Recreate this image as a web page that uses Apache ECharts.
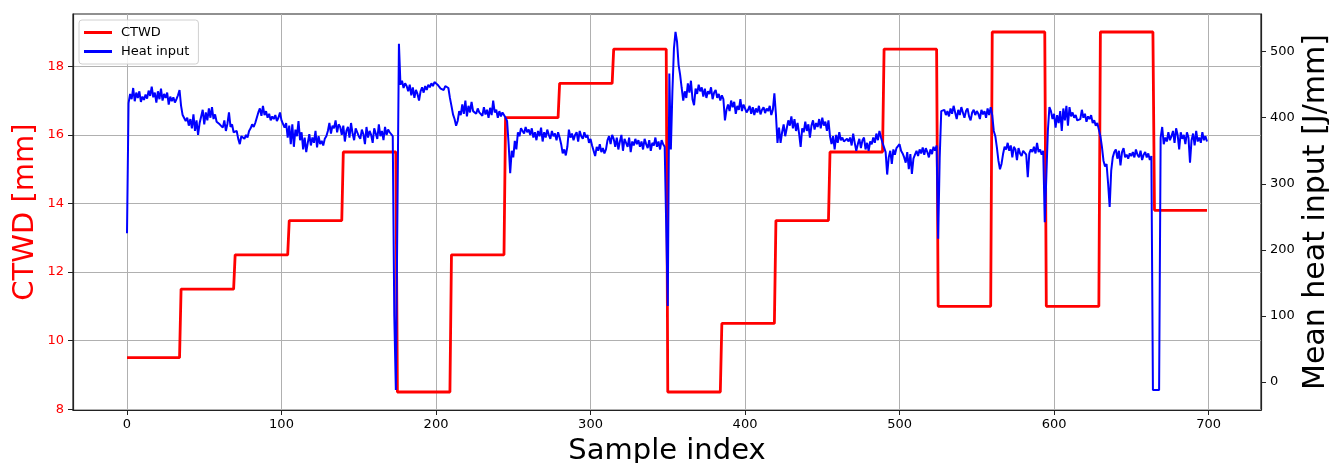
<!DOCTYPE html>
<html>
<head>
<meta charset="utf-8">
<script src="https://cdn.jsdelivr.net/npm/echarts@6/dist/echarts.min.js"></script>
<style>
html,body{margin:0;padding:0;background:#fff;}
#chart{width:1329px;height:463px;}
</style>
</head>
<body>
<div id="chart"></div>
<script>
// CTWD step levels and the sample index where each level starts
const ctwdStarts = [0, 35, 70, 105, 140, 175, 210, 245, 280, 315, 350, 385, 420, 455, 490, 525, 560, 595, 630, 665];
const ctwdLevels = [9.5, 11.5, 12.5, 13.5, 15.5, 8.5, 12.5, 16.5, 17.5, 18.5, 8.5, 10.5, 13.5, 15.5, 18.5, 11, 19, 11, 19, 13.8];
const lastSample = 699;

// Mean heat input [J/mm], one value per sample index 0..699
const heatInput = [
225, 422, 436, 428, 445, 425, 438, 430, 440, 424,
432, 427, 435, 429, 441, 433, 447, 431, 438, 423,
440, 428, 444, 426, 436, 430, 438, 420, 432, 425,
431, 423, 428, 434, 442, 418, 404, 402, 395, 400,
388, 398, 384, 405, 380, 396, 374, 392, 402, 412,
390, 408, 396, 414, 400, 416, 398, 405, 394, 392,
390, 393, 385, 396, 380, 391, 408, 386, 390, 378,
376, 380, 368, 360, 372, 375, 368, 374, 370, 380,
384, 390, 386, 392, 395, 408, 414, 403, 418, 404,
410, 400, 406, 396, 402, 398, 404, 395, 400, 408,
396, 398, 385, 392, 370, 388, 360, 390, 356, 382,
372, 395, 366, 378, 352, 370, 348, 362, 375, 358,
370, 362, 380, 355, 372, 360, 365, 358, 368, 372,
380, 392, 376, 388, 384, 396, 378, 390, 386, 374,
388, 364, 380, 386, 370, 392, 376, 366, 384, 378,
372, 368, 382, 375, 360, 386, 370, 380, 374, 362,
384, 376, 368, 390, 372, 380, 366, 386, 374, 382,
378, 380, 372, 100, -12, -12, 512, 450, 456, 445,
452, 448, 440, 450, 434, 446, 430, 442, 436, 426,
440, 446, 438, 448, 442, 450, 446, 452, 448, 454,
455, 450, 448, 444, 446, 442, 448, 450, 445, 430,
418, 405, 398, 388, 395, 410, 404, 420, 406, 426,
402, 418, 408, 424, 410, 412, 406, 414, 408, 410,
403, 416, 405, 412, 400, 415, 404, 426, 408, 412,
400, 410, 402, 408, 404, 400, 395, 360, 316, 350,
340, 365, 352, 378, 372, 384, 380, 376, 386, 378,
382, 374, 384, 370, 378, 366, 380, 372, 385, 364,
378, 370, 382, 374, 368, 380, 372, 376, 366, 378,
370, 360, 346, 352, 343, 356, 382, 370, 376, 366,
374, 378, 364, 380, 372, 368, 378, 370, 374, 362,
368, 358, 356, 342, 356, 350, 360, 348, 354, 346,
352, 366, 372, 360, 374, 368, 356, 370, 352, 364,
374, 350, 368, 362, 356, 370, 348, 364, 358, 368,
360, 366, 356, 364, 352, 368, 360, 354, 366, 350,
362, 358, 370, 356, 364, 352, 366, 360, 356, 358,
115, 467, 352, 440, 505, 530, 515, 480, 465, 445,
426, 440, 430, 452, 438, 456, 428, 419, 444, 436,
450, 440, 446, 432, 444, 430, 440, 436, 446, 428,
438, 442, 430, 436, 426, 434, 428, 396, 412, 420,
410, 426, 416, 424, 406, 418, 412, 428, 410, 420,
414, 408, 412, 418, 406, 416, 404, 414, 408, 418,
405, 412, 416, 407, 414, 410, 418, 404, 412, 437,
405, 362, 385, 362, 378, 390, 372, 384, 396, 388,
402, 384, 398, 380, 392, 376, 356, 384, 378, 394,
380, 390, 370, 388, 396, 382, 392, 386, 398, 384,
400, 388, 394, 380, 396, 372, 360, 372, 352, 374,
362, 378, 366, 370, 364, 362, 368, 364, 370, 358,
376, 362, 350, 360, 368, 354, 366, 370, 352, 362,
350, 364, 360, 370, 362, 376, 366, 380, 370, 362,
365, 348, 314, 340, 350, 330, 352, 344, 354, 356,
360, 350, 346, 340, 332, 348, 322, 345, 315, 338,
344, 350, 342, 352, 346, 355, 344, 354, 348, 340,
352, 345, 356, 350, 358, 217, 340, 410, 408, 412,
404, 410, 402, 414, 406, 418, 408, 398, 412, 404,
416, 408, 400, 410, 414, 402, 396, 408, 412, 404,
410, 406, 398, 412, 405, 410, 400, 414, 404, 416,
404, 380, 372, 355, 335, 322, 330, 345, 356, 352,
362, 350, 358, 340, 356, 352, 336, 354, 346, 342,
350, 348, 344, 310, 346, 352, 348, 356, 346, 362,
348, 352, 344, 350, 242, 310, 380, 416, 410, 398,
406, 385, 404, 392, 410, 380, 414, 396, 418, 388,
416, 402, 408, 400, 404, 396, 394, 398, 412, 400,
406, 394, 402, 398, 404, 392, 396, 388, 392, 382,
372, 356, 335, 326, 330, 300, 265, 320, 340, 348,
352, 338, 350, 328, 348, 354, 340, 344, 338, 346,
342, 348, 340, 352, 344, 340, 350, 336, 344, 348,
340, 346, 336, 342, -12, -12, -12, -12, -12, 370,
386, 360, 370, 364, 378, 366, 372, 380, 362, 384,
374, 352, 378, 368, 374, 360, 378, 370, 332, 366,
376, 358, 380, 364, 370, 362, 378, 366, 372, 364
];

const xTicks = [0, 100, 200, 300, 400, 500, 600, 700];
const ctwdTicks = [8, 10, 12, 14, 16, 18];
const heatTicks = [0, 100, 200, 300, 400, 500];

// build series data
const ctwdData = [];
for (let i = 0; i < ctwdStarts.length; i++) {
  const s = ctwdStarts[i];
  const e = (i + 1 < ctwdStarts.length) ? ctwdStarts[i + 1] - 1 : lastSample;
  ctwdData.push([s, ctwdLevels[i]]);
  ctwdData.push([e, ctwdLevels[i]]);
}
const heatData = heatInput.map((v, i) => [i, v]);

const FONT = 'DejaVu Sans';
const chart = echarts.init(document.getElementById('chart'), null, {renderer: 'canvas'});
chart.setOption({
  animation: false,
  backgroundColor: '#ffffff',
  textStyle: {fontFamily: FONT},
  grid: {
    left: 73, right: 68, top: 14, bottom: 53,
    containLabel: false,
    outerBoundsMode: 'none',
    show: true, borderColor: '#222', borderWidth: 1.2, backgroundColor: '#fff'
  },
  legend: {
    left: 79, top: 20,
    orient: 'vertical',
    padding: [5, 9, 5, 5],
    itemGap: 4,
    itemWidth: 28, itemHeight: 3,
    icon: 'rect',
    backgroundColor: 'rgba(255,255,255,0.85)',
    borderColor: '#d0d0d0', borderWidth: 1, borderRadius: 3,
    textStyle: {fontFamily: FONT, fontSize: 13, color: '#000', lineHeight: 15, padding: [0, 0, 0, 4]},
    data: ['CTWD', 'Heat input']
  },
  xAxis: {
    type: 'value',
    min: -34.95, max: 733.95,
    splitNumber: 8,
    name: 'Sample index',
    nameLocation: 'middle',
    nameGap: 27,
    nameMoveOverlap: false,
    nameTextStyle: {fontFamily: FONT, fontSize: 29, color: '#000'},
    axisLine: {show: true, onZero: false, lineStyle: {color: '#222', width: 1.2}},
    axisTick: {show: true, inside: false, length: 5, lineStyle: {color: '#222'}, customValues: xTicks},
    axisLabel: {show: true, margin: 8, fontSize: 13, color: '#000', fontFamily: FONT, customValues: xTicks},
    splitLine: {show: true, lineStyle: {color: '#b0b0b0', width: 1}}
  },
  yAxis: [
    {
      type: 'value',
      position: 'left',
      min: 7.975, max: 19.525,
      splitNumber: 6,
      name: 'CTWD [mm]',
      nameLocation: 'middle',
      nameGap: 33,
      nameMoveOverlap: false,
      nameRotate: 90,
      nameTextStyle: {fontFamily: FONT, fontSize: 29, color: '#ff0000'},
      axisLine: {show: true, onZero: false, lineStyle: {color: '#222', width: 1.2}},
      axisTick: {show: true, inside: false, length: 5, lineStyle: {color: '#222'}, customValues: ctwdTicks},
      axisLabel: {show: true, margin: 9, fontSize: 13, color: '#ff0000', fontFamily: FONT, customValues: ctwdTicks},
      splitLine: {show: true, lineStyle: {color: '#b0b0b0', width: 1}}
    },
    {
      type: 'value',
      position: 'right',
      min: -42.4, max: 557,
      splitNumber: 6,
      name: 'Mean heat input [J/mm]',
      nameLocation: 'middle',
      nameGap: 40,
      nameMoveOverlap: false,
      nameRotate: 90,
      nameTextStyle: {fontFamily: FONT, fontSize: 30, color: '#000'},
      axisLine: {show: true, onZero: false, lineStyle: {color: '#222', width: 1.2}},
      axisTick: {show: true, inside: false, length: 5, lineStyle: {color: '#222'}, customValues: heatTicks},
      axisLabel: {show: true, margin: 9, fontSize: 13, color: '#000', fontFamily: FONT, customValues: heatTicks},
      splitLine: {show: false}
    }
  ],
  series: [
    {
      name: 'CTWD', type: 'line', yAxisIndex: 0,
      data: ctwdData, showSymbol: false, symbol: 'none',
      lineStyle: {color: '#ff0000', width: 2.8}, itemStyle: {color: '#ff0000'},
      z: 2
    },
    {
      name: 'Heat input', type: 'line', yAxisIndex: 1,
      data: heatData, showSymbol: false, symbol: 'none',
      lineStyle: {color: '#0000ff', width: 2}, itemStyle: {color: '#0000ff'},
      z: 3
    }
  ]
});
</script>
</body>
</html>
